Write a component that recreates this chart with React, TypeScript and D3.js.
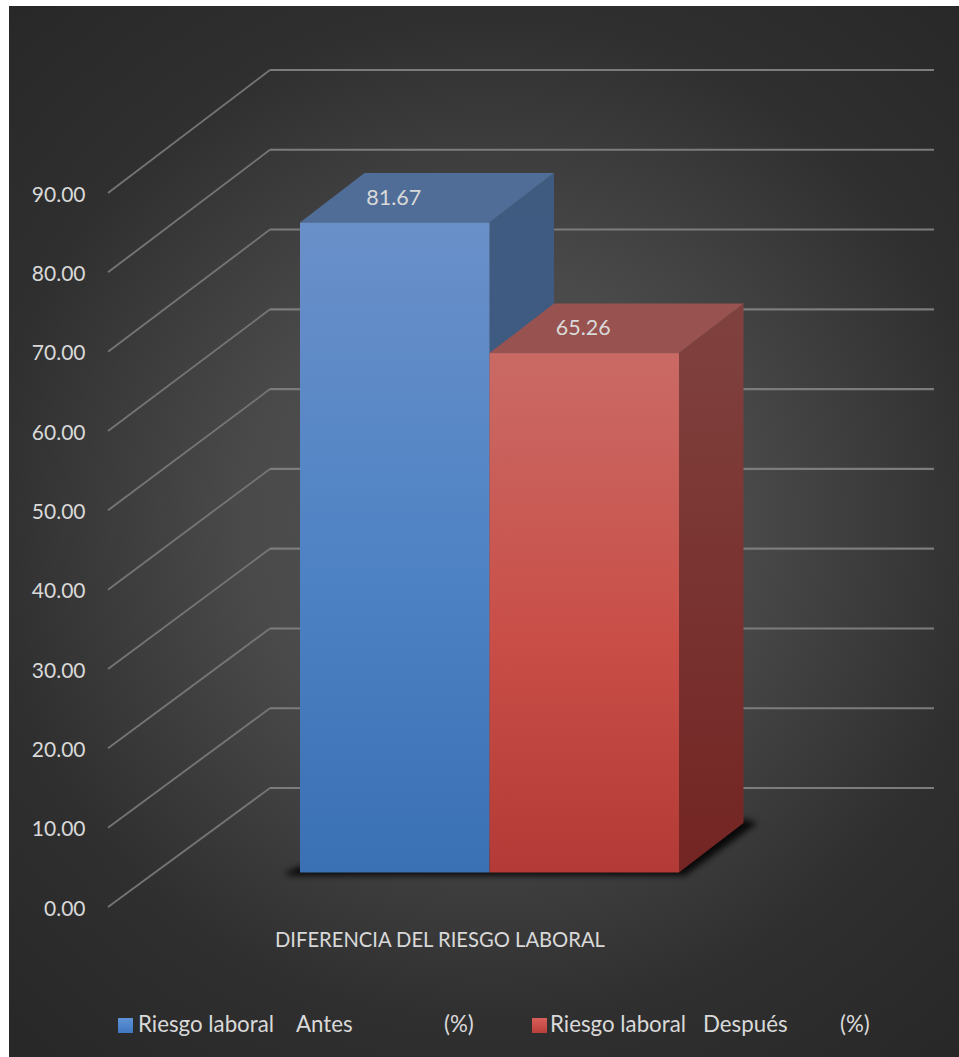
import React from "react";
import * as d3 from "d3";

// Series and axis content
const categoryTitle = "DIFERENCIA DEL RIESGO LABORAL";
const barValues = [81.67, 65.26];
const barLabels = ["81.67", "65.26"];
const tickValues = [0, 10, 20, 30, 40, 50, 60, 70, 80, 90];
const legendParts = [
  ["Riesgo laboral", "Antes", "(%)"],
  ["Riesgo laboral", "Después", "(%)"],
];

const FONT = "Lato, 'Open Sans', sans-serif";
const TEXT = "#d9d9d9";

// The floor and back wall of the 3D box each get their own value scale
const frontY = d3.scaleLinear().domain([0, 90]).range([907, 193]);
const backY = d3.scaleLinear().domain([0, 90]).range([788, 70]);
const barFrontY = d3.scaleLinear().domain([0, 81.67]).range([872.5, 222.5]);
const barX = d3.scaleBand<number>().domain([0, 1]).range([300, 679]).padding(0);

const AXIS_FRONT_X = 108;
const AXIS_BACK_X = 270;
const AXIS_RIGHT_X = 934;
const DEPTH_X = 64.5;
const DEPTH_Y = -49.5;

const poly = d3.line<[number, number]>().x((d) => d[0]).y((d) => d[1]);
const closed = (pts: [number, number][]) => poly(pts) + "Z";

const faceColors = [
  {
    front: ["#6a90c9", "#4d82c4", "#3a70b4"],
    top: "#506d97",
    side: ["#405b80", "#395a87"],
    swatch: ["#5f92d6", "#3f78c0"],
  },
  {
    front: ["#ca6a65", "#c94e48", "#b33a36"],
    top: "#98524f",
    side: ["#80423f", "#732523"],
    swatch: ["#d9605a", "#b83f3a"],
  },
];

const legendX = [
  { swatch: 118, parts: [138, 296, 444] },
  { swatch: 532, parts: [550, 703, 840] },
];

export default function App() {
  const bw = barX.bandwidth();
  const floorY = barFrontY(0);
  const shadow = closed([
    [284, floorY + 1],
    [300, floorY - 6],
    [barX(1)! + bw + DEPTH_X, floorY + DEPTH_Y - 4],
    [barX(1)! + bw + DEPTH_X + 14, floorY + DEPTH_Y],
    [barX(1)! + bw + 6, floorY + 3],
    [290, floorY + 3],
  ]);

  return (
    <svg
      width={959}
      height={1057}
      viewBox="0 0 959 1057"
      style={{ position: "absolute", left: 0, top: 0, display: "block" }}
    >
      <defs>
        <radialGradient id="panel" gradientUnits="userSpaceOnUse" cx={490} cy={520} r={700}>
          <stop offset="0" stopColor="#525252" />
          <stop offset="0.35" stopColor="#4a4a4a" />
          <stop offset="0.72" stopColor="#2f2f2f" />
          <stop offset="1" stopColor="#282828" />
        </radialGradient>
        <filter id="soft" x="-20%" y="-20%" width="140%" height="140%">
          <feGaussianBlur stdDeviation="3" />
        </filter>
        {faceColors.map((c, i) => (
          <React.Fragment key={i}>
            <linearGradient id={`front${i}`} x1="0" y1="0" x2="0" y2="1">
              <stop offset="0" stopColor={c.front[0]} />
              <stop offset="0.55" stopColor={c.front[1]} />
              <stop offset="1" stopColor={c.front[2]} />
            </linearGradient>
            <linearGradient id={`side${i}`} x1="0" y1="0" x2="0" y2="1">
              <stop offset="0" stopColor={c.side[0]} />
              <stop offset="1" stopColor={c.side[1]} />
            </linearGradient>
            <linearGradient id={`swatch${i}`} x1="0" y1="0" x2="0" y2="1">
              <stop offset="0" stopColor={c.swatch[0]} />
              <stop offset="1" stopColor={c.swatch[1]} />
            </linearGradient>
          </React.Fragment>
        ))}
      </defs>

      <rect x={9} y={6} width={950} height={1051} fill="url(#panel)" />

      {/* Gridlines: floor-to-wall diagonal, then along the back wall */}
      <g fill="none" strokeLinejoin="round">
        {tickValues.map((v) => (
          <g key={v}>
            <path
              d={poly([
                [AXIS_FRONT_X, frontY(v)],
                [AXIS_BACK_X, backY(v)],
              ])!}
              stroke="#747474"
              strokeWidth={1.9}
            />
            <path
              d={poly([
                [AXIS_BACK_X, backY(v)],
                [AXIS_RIGHT_X, backY(v)],
              ])!}
              stroke="#7c7c7c"
              strokeWidth={2.1}
            />
          </g>
        ))}
      </g>

      {tickValues.map((v) => (
        <text
          key={v}
          x={85.5}
          y={frontY(v)}
          dy="0.42em"
          textAnchor="end"
          fontFamily={FONT}
          fontSize={21}
          fill={TEXT}
        >
          {v.toFixed(2)}
        </text>
      ))}

      <path d={shadow} fill="#000" opacity={0.85} filter="url(#soft)" />

      {/* Bars are painted back to front so the right bar overlaps the left bar's side */}
      {barValues.map((v, i) => {
        const x0 = barX(i)!;
        const x1 = x0 + bw;
        const yt = barFrontY(v);
        const c = faceColors[i];
        return (
          <g key={i}>
            <path
              d={closed([
                [x1, yt],
                [x1 + DEPTH_X, yt + DEPTH_Y],
                [x1 + DEPTH_X, floorY + DEPTH_Y],
                [x1, floorY],
              ])}
              fill={`url(#side${i})`}
            />
            <path
              d={closed([
                [x0, yt],
                [x0 + DEPTH_X, yt + DEPTH_Y],
                [x1 + DEPTH_X, yt + DEPTH_Y],
                [x1, yt],
              ])}
              fill={c.top}
            />
            <rect x={x0} y={yt} width={bw} height={floorY - yt} fill={`url(#front${i})`} />
            <text
              x={(x0 + x1) / 2 - 1}
              y={yt - 26.5}
              dy="0.4em"
              textAnchor="middle"
              fontFamily={FONT}
              fontSize={21.5}
              fill={TEXT}
            >
              {barLabels[i]}
            </text>
          </g>
        );
      })}

      <text x={275} y={947} fontFamily={FONT} fontSize={20.2} fill={TEXT}>
        {categoryTitle}
      </text>

      {legendParts.map((parts, i) => (
        <g key={i}>
          <rect x={legendX[i].swatch} y={1018} width={15} height={15} fill={`url(#swatch${i})`} />
          {parts.map((p, j) => (
            <text
              key={j}
              x={legendX[i].parts[j]}
              y={1032}
              fontFamily={FONT}
              fontSize={22.3}
              fill={TEXT}
            >
              {p}
            </text>
          ))}
        </g>
      ))}
    </svg>
  );
}
